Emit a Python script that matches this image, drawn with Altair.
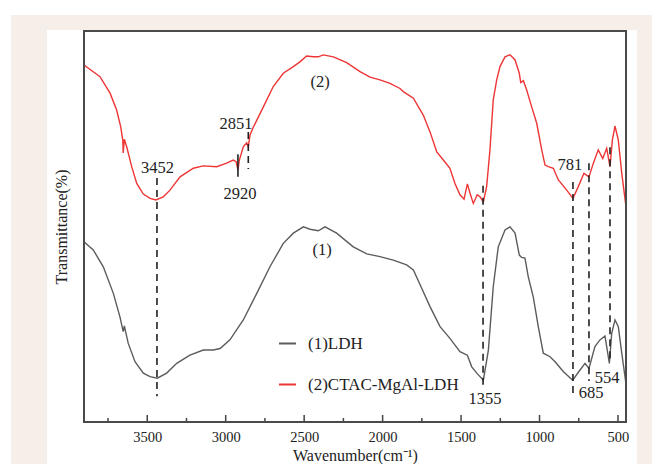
import altair as alt
import pandas as pd

# ---- spectrum (2) CTAC-MgAl-LDH : wavenumber (cm-1) / transmittance (a.u.)
wn_ctac = [3903, 3801, 3737, 3695, 3669, 3656, 3653, 3646, 3631, 3599, 3567, 3525, 3482,
           3445, 3398, 3355, 3291, 3206, 3143, 3057, 2994, 2952, 2934, 2922, 2913, 2888,
           2866, 2856, 2845, 2824, 2760, 2697, 2633, 2569, 2527, 2484, 2442, 2410, 2378,
           2314, 2229, 2144, 2080, 2017, 1953, 1889, 1868, 1804, 1741, 1698, 1655, 1613,
           1571, 1539, 1507, 1481, 1460, 1443, 1422, 1397, 1379, 1358, 1337, 1316, 1295,
           1273, 1252, 1220, 1188, 1156, 1129, 1120, 1103, 1082, 1050, 1018, 986, 965,
           944, 912, 880, 859, 827, 787, 753, 717, 685, 657, 626, 597, 572, 551, 536,
           519, 498, 476, 449]
t_ctac = [91.3, 88.3, 84.1, 79.8, 75.5, 72.1, 68.8, 72.3, 70.4, 65.3, 61.0, 58.3, 57.2,
          56.8, 57.6, 59.3, 62.7, 64.9, 65.5, 65.3, 66.2, 67.0, 66.6, 64.5, 67.0, 70.4,
          71.4, 70.4, 73.4, 75.4, 80.6, 85.8, 89.2, 90.9, 92.1, 93.6, 93.4, 93.4, 93.9,
          93.4, 91.9, 89.6, 88.2, 87.5, 86.6, 85.3, 84.5, 82.8, 78.5, 74.2, 69.1, 67.0,
          64.9, 61.0, 58.1, 57.0, 60.9, 58.5, 55.9, 58.1, 57.6, 56.3, 60.2, 69.6, 82.4,
          87.5, 90.9, 93.4, 93.9, 92.6, 89.2, 86.8, 87.3, 84.9, 80.6, 76.4, 69.6, 65.7,
          65.3, 64.9, 61.9, 60.9, 59.3, 57.2, 60.2, 63.6, 62.7, 66.2, 69.6, 67.4, 70.0,
          65.3, 72.1, 75.7, 72.1, 63.6, 55.1]

# ---- spectrum (1) LDH
wn_ldh = [3903, 3844, 3780, 3716, 3674, 3653, 3646, 3621, 3578, 3525, 3482, 3436, 3376,
          3312, 3228, 3143, 3079, 3036, 2973, 2888, 2802, 2718, 2633, 2569, 2505, 2463,
          2410, 2367, 2293, 2187, 2101, 2017, 1932, 1847, 1804, 1751, 1698, 1634, 1571,
          1507, 1460, 1432, 1400, 1358, 1326, 1295, 1263, 1220, 1188, 1156, 1129, 1114,
          1093, 1072, 1040, 1008, 976, 933, 901, 849, 789, 742, 710, 685, 647, 615, 583,
          555, 540, 519, 498, 476, 451]
t_ldh = [46.1, 44.0, 39.7, 32.9, 26.9, 23.1, 24.6, 20.1, 15.4, 12.5, 11.6, 11.2, 12.5,
         15.0, 17.1, 18.4, 18.4, 18.8, 21.0, 26.1, 32.9, 39.7, 45.7, 48.3, 49.9, 49.3,
         48.9, 49.9, 48.3, 44.8, 43.0, 42.3, 41.4, 40.2, 38.9, 34.2, 29.5, 24.4, 21.4,
         18.0, 17.1, 14.1, 12.5, 10.7, 18.4, 34.6, 44.8, 49.1, 49.9, 48.3, 42.7, 42.1,
         41.9, 37.2, 32.0, 24.4, 17.6, 16.7, 15.4, 12.9, 10.7, 13.3, 15.0, 13.7, 19.3,
         21.0, 22.0, 15.0, 22.7, 26.1, 24.4, 17.6, 10.3]

series_names = ["(1)LDH", "(2)CTAC-MgAl-LDH"]
series_colors = ["#5c5c5c", "#ee3535"]

# ---- peak marker lines
dash_wn = [3438, 2856, 1360, 787, 685, 551]
dash_top = [62.4, 74.2, 60.4, 61.4, 66.2, 70.3]
dash_bottom = [6.6, 64.7, 9.2, 6.4, 10.5, 15.1]
solid_wn = [2922]
solid_top = [68.5]
solid_bottom = [62.7]

# ---- annotation texts
label_text = ["3452", "2851", "2920", "781", "1355", "685", "554", "(2)", "(1)"]
label_wn = [3435, 2934, 2909, 806, 1348, 672, 570, 2399, 2386]
label_t = [65.0, 76.2, 58.3, 65.7, 5.9, 7.4, 11.3, 87.0, 44.0]

# ---- axis ticks
major_ticks = [3500, 3000, 2500, 2000, 1500, 1000, 500]
minor_ticks = [3750, 3250, 2750, 2250, 1750, 1250, 750]

W, H = 542, 391
SERIF = "Liberation Serif"
INK = "#222222"

spec = pd.DataFrame({
    "wn": wn_ldh + wn_ctac,
    "t": t_ldh + t_ctac,
    "series": [series_names[0]] * len(wn_ldh) + [series_names[1]] * len(wn_ctac),
    "idx": list(range(len(wn_ldh))) + list(range(len(wn_ctac))),
})
dash_df = pd.DataFrame({"wn": dash_wn, "t": dash_top, "t2": dash_bottom})
solid_df = pd.DataFrame({"wn": solid_wn, "t": solid_top, "t2": solid_bottom})
label_df = pd.DataFrame({"wn": label_wn, "t": label_t, "text": label_text})
major_df = pd.DataFrame({"wn": major_ticks})
minor_df = pd.DataFrame({"wn": minor_ticks})
one = pd.DataFrame({"a": [0]})

xscale = alt.Scale(domain=[449, 3903], reverse=True, nice=False, zero=False)
yscale = alt.Scale(domain=[0, 100], nice=False, zero=False)

xaxis = alt.Axis(values=major_ticks, format="d", ticks=False, tickSize=0, domain=False,
                 grid=False, labelFont=SERIF, labelFontSize=14.5, labelColor=INK,
                 labelPadding=8.5, labelFlush=False, title="Wavenumber(cm⁻¹)",
                 titleFont=SERIF, titleFontSize=16, titleFontWeight="normal",
                 titleColor=INK, titleY=38.5, titleBaseline="alphabetic", zindex=1)
yaxis = alt.Axis(labels=False, ticks=False, domain=False, grid=False,
                 title="Transmittance(%)", titleFont=SERIF, titleFontSize=16,
                 titleFontWeight="normal", titleColor=INK, titleX=-23, titleY=H / 2,
                 titleAngle=270, titleAlign="center", titleBaseline="middle", zindex=1)

X = alt.X("wn:Q", scale=xscale, axis=xaxis, title="Wavenumber(cm⁻¹)")
Y = alt.Y("t:Q", scale=yscale, axis=yaxis, title="Transmittance(%)")

beige = alt.Chart(one).mark_rect(color="#f5eee9").encode(
    x=alt.value(-73), x2=alt.value(568), y=alt.value(-16), y2=alt.value(433))
white = alt.Chart(one).mark_rect(color="#ffffff").encode(
    x=alt.value(-37), x2=alt.value(553), y=alt.value(-1), y2=alt.value(433))

legend = alt.Legend(
    orient="none", legendX=194, legendY=303, title=None, symbolType="stroke",
    symbolSize=289, symbolStrokeWidth=2, labelFont=SERIF, labelFontSize=17,
    labelColor=INK, rowPadding=23, labelOffset=11, padding=0,
)

lines = alt.Chart(spec).mark_line(strokeWidth=1.4).encode(
    x=X, y=Y,
    color=alt.Color("series:N",
                    scale=alt.Scale(domain=series_names, range=series_colors),
                    legend=legend),
    order="idx:Q",
)

dashes = alt.Chart(dash_df).mark_rule(color=INK, strokeWidth=1.6, strokeDash=[7, 5]).encode(
    x=X, y=Y, y2="t2:Q")
solid = alt.Chart(solid_df).mark_rule(color=INK, strokeWidth=1.6).encode(
    x=X, y=Y, y2="t2:Q")
texts = alt.Chart(label_df).mark_text(font=SERIF, fontSize=16.5, color=INK,
                                      align="center", baseline="middle").encode(
    x=X, y=Y, text="text:N")

major = alt.Chart(major_df).mark_rule(color="#444444", strokeWidth=1.5).encode(
    x=X, y=alt.value(H), y2=alt.value(H - 7))
minor = alt.Chart(minor_df).mark_rule(color="#444444", strokeWidth=1.5).encode(
    x=X, y=alt.value(H), y2=alt.value(H - 4))

frame = alt.Chart(one).mark_rect(fillOpacity=0, stroke="#4a4a4a", strokeWidth=2).encode(
    x=alt.value(0), x2=alt.value(W), y=alt.value(0), y2=alt.value(H))

chart = alt.layer(beige, white, lines, dashes, solid, texts, major, minor, frame).properties(
    width=W, height=H,
    autosize=alt.AutoSizeParams(type="none"),
    padding={"left": 76, "top": 23, "right": 26, "bottom": 42},
    background="#ffffff",
).configure_view(stroke="transparent")

chart.save("out.html", embed_options={"renderer": "svg", "actions": False})
